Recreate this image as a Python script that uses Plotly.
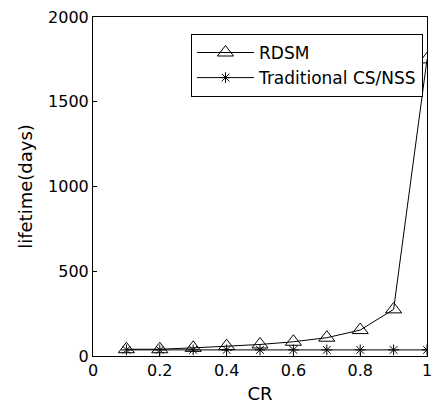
import plotly.graph_objects as go

cr = [0.1, 0.2, 0.3, 0.4, 0.5, 0.6, 0.7, 0.8, 0.9, 1.0]
rdsm = [40, 40, 48, 58, 68, 84, 108, 153, 275, 1750]
traditional = [36, 36, 36, 36, 36, 36, 36, 36, 36, 36]

x_ticks = [0, 0.2, 0.4, 0.6, 0.8, 1]
x_tick_text = ["0", "0.2", "0.4", "0.6", "0.8", "1"]
y_ticks = [0, 500, 1000, 1500, 2000]

font = "DejaVu Sans, Arial, sans-serif"

fig = go.Figure()
fig.add_trace(go.Scatter(
    x=cr, y=rdsm, name="RDSM", mode="lines+markers",
    line=dict(color="black", width=1),
    marker=dict(symbol="triangle-up-open", size=14, color="black", line=dict(width=1, color="black")),
))
fig.add_trace(go.Scatter(
    x=cr, y=traditional, name="Traditional CS/NSS", mode="lines+markers",
    line=dict(color="black", width=1),
    marker=dict(symbol="asterisk-open", size=9, color="black", line=dict(width=1, color="black")),
))

axis_common = dict(
    showgrid=False, zeroline=False, showline=True, linecolor="black", linewidth=1,
    mirror=True, ticks="inside", ticklen=4, tickcolor="black",
    tickfont=dict(family=font, size=16, color="black"),
    ticklabeloverflow="allow",
)
fig.update_xaxes(range=[0, 1], tickvals=x_ticks, ticktext=x_tick_text,
                 title=dict(text="CR", font=dict(family=font, size=18, color="black"), standoff=8),
                 **axis_common)
fig.update_yaxes(range=[0, 2000], tickvals=y_ticks,
                 title=dict(text="lifetime(days)", font=dict(family=font, size=18, color="black"), standoff=10),
                 **axis_common)

fig.update_layout(
    width=434, height=404,
    margin=dict(l=93, r=2, t=17, b=48),
    paper_bgcolor="white", plot_bgcolor="white",
    font=dict(family=font, size=16, color="black"),
    showlegend=True,
    legend=dict(
        x=0.988, y=0.95, xanchor="right", yanchor="top",
        bordercolor="black", borderwidth=1, bgcolor="white",
        font=dict(family=font, size=17, color="black"),
        itemwidth=57, tracegroupgap=0,
    ),
)

fig.write_html("out.html")
